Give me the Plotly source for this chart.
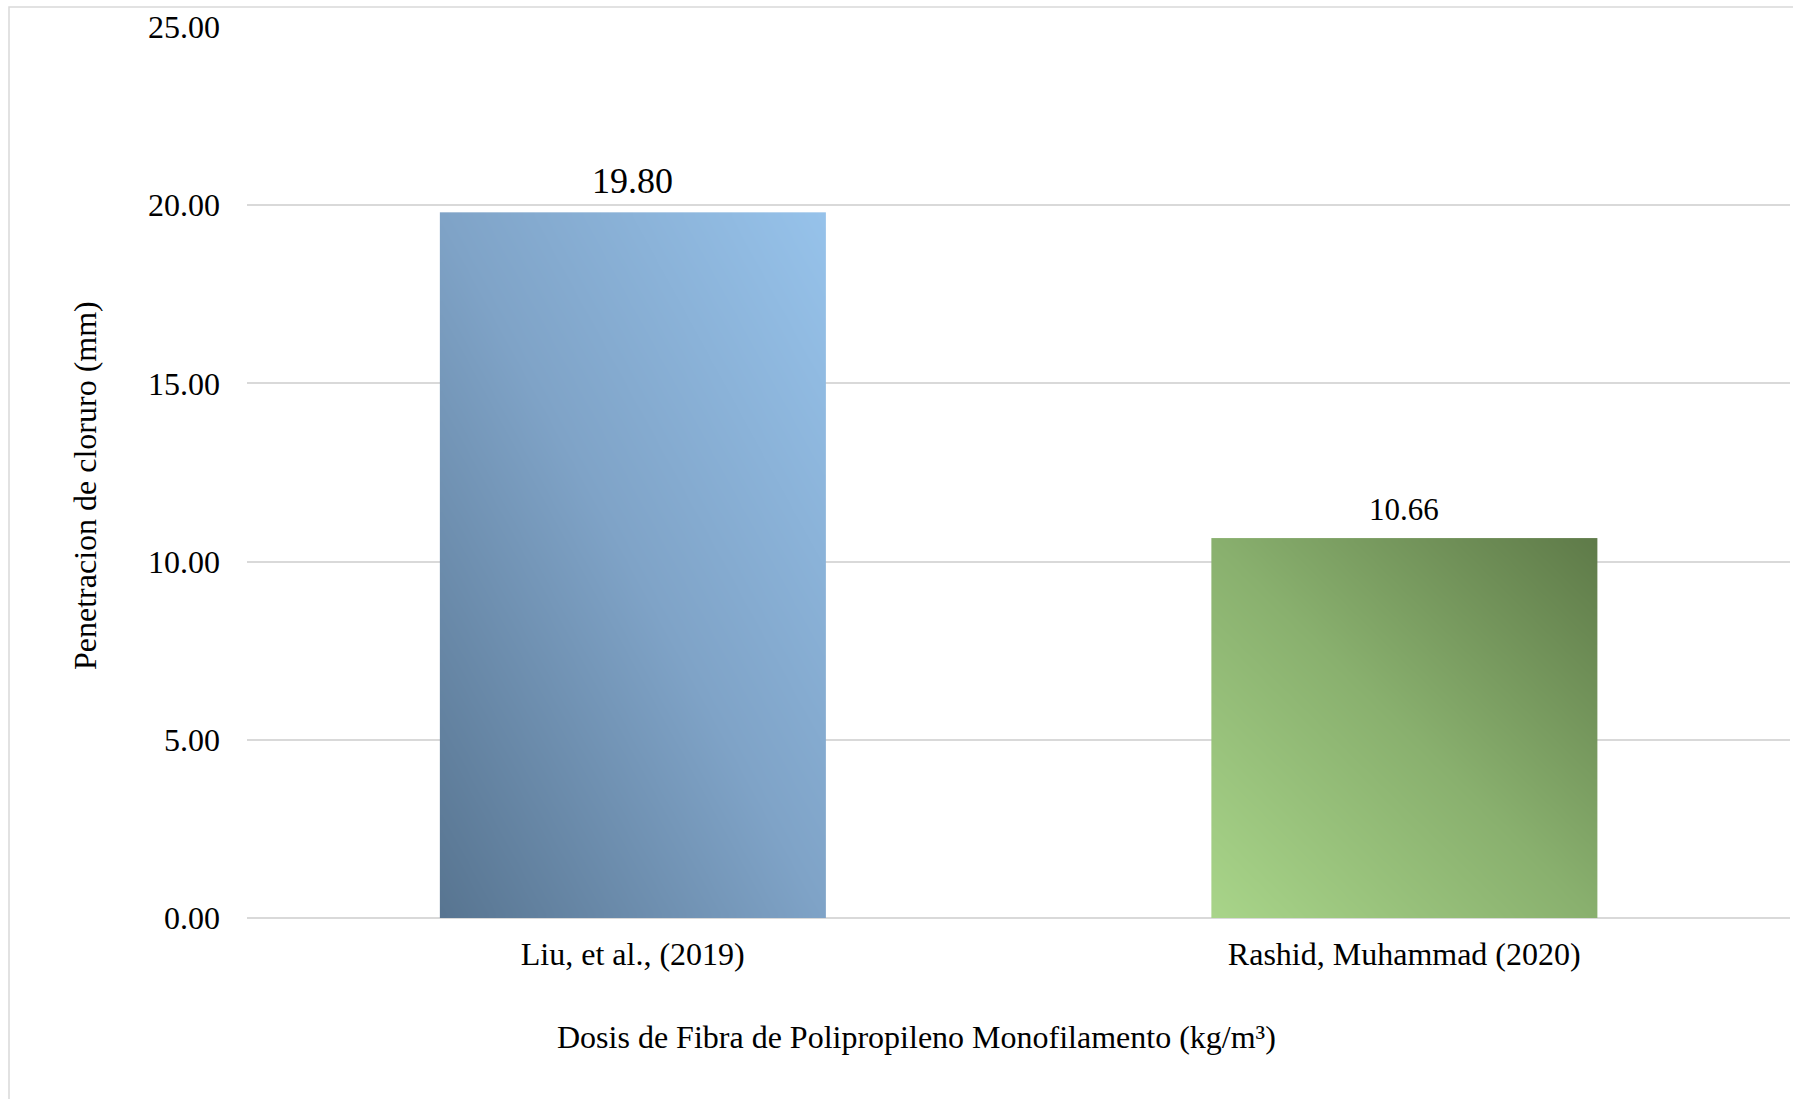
import numpy as np
import plotly.graph_objects as go

# Chloride penetration by study
categories = ["Liu, et al., (2019)", "Rashid, Muhammad (2020)"]
values = [19.80, 10.66]
label_sizes = [36, 31]

x_title = "Dosis de Fibra de Polipropileno Monofilamento (kg/m³)"
y_title = "Penetracion de cloruro (mm)"

# Diagonal gradient stops per bar: bottom-left -> middle -> top-right
gradients = [
    [[0.0, "#587591"], [0.5, "#7fa3c7"], [1.0, "#96c2ea"]],
    [[0.0, "#a8d489"], [0.5, "#89b06e"], [1.0, "#5f7b49"]],
]

BAR_WIDTH = 0.5
GRID = "#d9d9d9"
FONT = "Liberation Serif, Times New Roman, serif"

# Plot-area geometry in pixels
W, H = 1793, 1099
L, R, T, B = 247, 3, 27, 181
PW, PH = W - L - R, H - T - B

fig = go.Figure()

# Each bar body is a smoothly shaded heatmap that fills the bar rectangle
n = 80
for i, (v, cs) in enumerate(zip(values, gradients)):
    x0, x1 = i - BAR_WIDTH / 2, i + BAR_WIDTH / 2
    dx = (x1 - x0) / n
    dy = v / n
    xs = x0 + (np.arange(n) + 0.5) * dx
    ys = (np.arange(n) + 0.5) * dy
    u = np.linspace(0, 1, n)
    z = (u[None, :] + u[:, None]) / 2
    fig.add_trace(go.Heatmap(
        x=xs, y=ys, z=z, colorscale=cs, zmin=0, zmax=1,
        zsmooth="best", showscale=False, hoverinfo="skip",
    ))

# Transparent bars carry the values (hover) on top of the shaded bodies
fig.add_trace(go.Bar(
    x=list(range(len(categories))), y=values, width=BAR_WIDTH,
    marker=dict(color="rgba(0,0,0,0)", line=dict(width=0)),
    hovertext=categories, showlegend=False,
))

# Value labels above each bar
for i, (v, s) in enumerate(zip(values, label_sizes)):
    fig.add_annotation(
        x=i, y=v, text=f"{v:.2f}", showarrow=False,
        yanchor="bottom", yshift=9,
        font=dict(family=FONT, size=s, color="#000000"),
    )

# Axis titles, centred on the whole chart frame
fig.add_annotation(
    xref="paper", yref="paper", x=(916 - L) / PW, y=(T + PH - 1037) / PH,
    xanchor="center", yanchor="middle", showarrow=False, text=x_title,
    font=dict(family=FONT, size=32, color="#000000"),
)
fig.add_annotation(
    xref="paper", yref="paper", x=(85 - L) / PW, y=(T + PH - 486) / PH,
    xanchor="center", yanchor="middle", showarrow=False, text=y_title,
    textangle=-90, font=dict(family=FONT, size=32, color="#000000"),
)

# Outer chart border (only top and left edges fall inside the page)
fig.add_shape(
    type="rect", xref="paper", yref="paper",
    x0=(9 - L) / PW, x1=1.05, y0=-0.3, y1=1 + 20 / PH,
    line=dict(color=GRID, width=1.5), fillcolor="rgba(0,0,0,0)", layer="below",
)

fig.update_layout(
    width=W, height=H,
    margin=dict(l=L, r=R, t=T, b=B),
    paper_bgcolor="white", plot_bgcolor="white",
    font=dict(family=FONT, size=32, color="#000000"),
    showlegend=False,
    xaxis=dict(
        range=[-0.5, len(categories) - 0.5],
        tickvals=list(range(len(categories))), ticktext=categories,
        showgrid=False, zeroline=False, showline=False,
        ticks="", ticklabelstandoff=14,
        tickfont=dict(family=FONT, size=32, color="#000000"),
        fixedrange=True,
    ),
    yaxis=dict(
        range=[0, 25], dtick=5, tickformat=".2f",
        showgrid=True, gridcolor=GRID, gridwidth=1.5,
        zeroline=True, zerolinecolor=GRID, zerolinewidth=1.5,
        showline=False, ticks="", ticklabelstandoff=26,
        tickfont=dict(family=FONT, size=32, color="#000000"),
        fixedrange=True,
    ),
)

fig.write_html("out.html")
